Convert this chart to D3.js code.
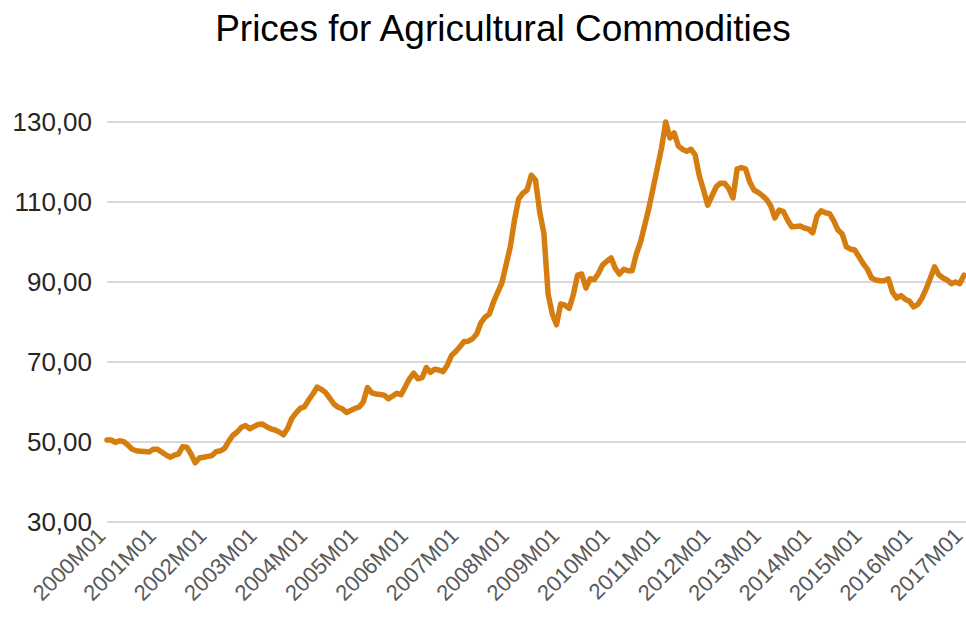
<!DOCTYPE html>
<html>
<head>
<meta charset="utf-8">
<script src="https://cdn.jsdelivr.net/npm/d3@7"></script>
<style>
  html, body { margin: 0; padding: 0; background: #fff; }
  svg { display: block; font-family: "Liberation Sans", Arial, sans-serif; }
</style>
</head>
<body>
<svg id="chart" width="966" height="626"></svg>
<script>
// Monthly index values, 2000M01 .. 2017M01
const values = [
  50.5, 50.5, 49.9, 50.3, 50.1, 49.2, 48.2, 47.8, 47.7, 47.6, 47.5, 48.2,
  48.2, 47.5, 46.8, 46.2, 46.7, 47.0, 48.8, 48.7, 47.0, 44.8, 46.0, 46.2,
  46.4, 46.6, 47.6, 47.8, 48.4, 50.2, 51.7, 52.5, 53.7, 54.1, 53.3, 53.9,
  54.4, 54.5, 53.8, 53.3, 53.0, 52.5, 51.8, 53.4, 55.9, 57.3, 58.4, 58.8,
  60.5, 62.0, 63.7, 63.2, 62.4, 61.0, 59.5, 58.7, 58.3, 57.4, 57.9, 58.4,
  58.7, 60.0, 63.6, 62.3, 62.0, 61.9, 61.7, 60.8, 61.5, 62.2, 61.8, 63.8,
  65.8, 67.2, 65.8, 66.1, 68.6, 67.4, 68.2, 68.0, 67.6, 69.2, 71.6, 72.6,
  73.8, 75.1, 75.2, 75.8, 77.0, 79.8, 81.2, 82.0, 85.0, 87.4, 89.8, 94.3,
  98.8, 105.5, 110.8, 112.2, 113.0, 116.7, 115.5, 107.5, 102.2, 87.0, 82.0, 79.3,
  84.5, 84.2, 83.4, 86.8, 91.7, 92.0, 88.5, 90.8, 90.6, 92.2, 94.3, 95.2,
  96.0, 93.4, 92.0, 93.2, 92.8, 92.8, 97.0, 100.0, 104.2, 108.5, 113.5, 118.5,
  123.5, 130.0, 126.0, 127.3, 124.0, 123.2, 122.7, 123.2, 121.8, 116.5, 113.0, 109.2,
  111.5, 113.8, 114.7, 114.7, 113.4, 111.0, 118.3, 118.6, 118.3, 115.0, 113.0, 112.4,
  111.6, 110.6, 109.0, 106.0, 108.0, 107.6, 105.5, 103.8, 103.9, 104.0, 103.5, 103.2,
  102.3, 106.5, 107.8, 107.3, 107.1, 105.3, 103.0, 102.0, 98.8, 98.2, 98.0, 96.3,
  94.6, 93.2, 91.0, 90.5, 90.3, 90.3, 90.8, 87.4, 86.0, 86.6, 85.7, 85.2,
  83.8, 84.4, 86.0, 88.3, 91.0, 93.8, 91.8, 91.0, 90.5, 89.6, 90.0, 89.6,
  91.7
];
const startYear = 2000;
const months = values.map((v, i) => {
  const yr = startYear + Math.floor(i / 12);
  const mo = (i % 12) + 1;
  return yr + "M" + String(mo).padStart(2, "0");
});
const yTicks = [30, 50, 70, 90, 110, 130];
const xTickLabels = months.filter((d, i) => i % 12 === 0);
const chartTitle = "Prices for Agricultural Commodities";

const svg = d3.select("#chart");
const W = 966, H = 626;
const mLeft = 107, mRight = 964, mTop = 122, mBottom = 522;

const x = d3.scalePoint().domain(months).range([mLeft, mRight]);
const y = d3.scaleLinear().domain([30, 130]).range([mBottom, mTop]);

// gridlines
svg.append("g").selectAll("line").data(yTicks).join("line")
  .attr("x1", mLeft).attr("x2", W)
  .attr("y1", d => y(d)).attr("y2", d => y(d))
  .attr("stroke", "#d9d9d9").attr("stroke-width", 2);

// y axis labels
const fmt = d => d3.format(".2f")(d).replace(".", ",");
svg.append("g").selectAll("text").data(yTicks).join("text")
  .attr("x", 92).attr("y", d => y(d))
  .attr("dy", "0.36em")
  .attr("text-anchor", "end")
  .attr("font-size", 26)
  .attr("fill", "#262626")
  .text(fmt);

// x axis labels
svg.append("g").selectAll("text").data(xTickLabels).join("text")
  .attr("transform", d => `translate(${x(d)},${537}) rotate(-45)`)
  .attr("text-anchor", "end")
  .attr("font-size", 22)
  .attr("fill", "#595959")
  .text(d => d);

// line
const line = d3.line()
  .x((d, i) => x(months[i]))
  .y(d => y(d));
svg.append("path")
  .datum(values)
  .attr("d", line)
  .attr("fill", "none")
  .attr("stroke", "#d57d0f")
  .attr("stroke-width", 5.5)
  .attr("stroke-linejoin", "round")
  .attr("stroke-linecap", "round");

// title
svg.append("text")
  .attr("x", 503).attr("y", 41)
  .attr("text-anchor", "middle")
  .attr("font-size", 37)
  .attr("fill", "#000")
  .text(chartTitle);
</script>
</body>
</html>
